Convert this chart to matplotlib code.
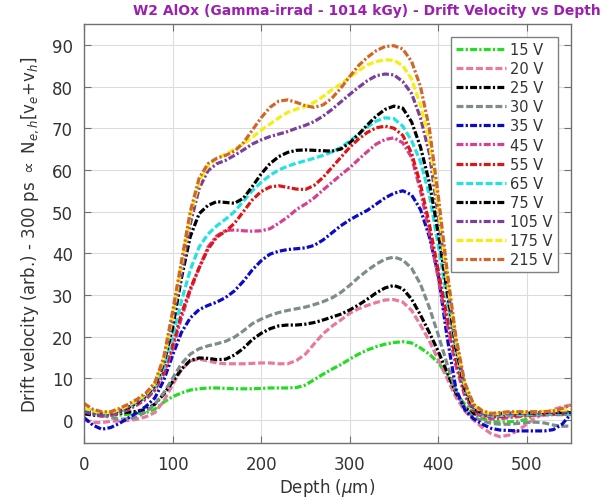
import numpy as np
import matplotlib
matplotlib.use("Agg")
import matplotlib.pyplot as plt

# Depth grid (um)
depth = np.arange(0, 551, 10)

v15 = [2.8, 2.2, 1.6, 1.2, 1.2, 1.4, 1.6, 1.8, 2.6, 4.3, 5.6, 6.5, 7.2, 7.5, 7.7, 7.7,
       7.6, 7.5, 7.5, 7.5, 7.6, 7.7, 7.7, 7.7, 7.8, 8.4, 9.7, 11.0, 12.2, 13.3, 14.6,
       15.8, 16.8, 17.6, 18.2, 18.6, 18.8, 18.5, 17.3, 15.8, 13.8, 10.8, 6.5, 3.8, 1.6,
       0.3, -0.3, -0.5, -0.4, -0.3, 0.2, 1.2, 1.6, 1.5, 1.4, 1.3]
v20 = [0.0, -0.6, -0.6, -0.3, -0.2, -0.1, 0.2, 0.8, 1.8, 4.5, 8.5, 12.0, 14.2, 14.6,
       14.2, 13.7, 13.5, 13.5, 13.5, 13.6, 13.7, 13.7, 13.5, 13.5, 14.3, 15.8, 18.3,
       20.7, 22.5, 24.0, 25.6, 26.7, 27.5, 28.2, 28.8, 28.9, 28.3, 26.3, 22.8, 19.0,
       14.5, 10.0, 5.5, 2.2, 0.0, -1.8, -3.3, -4.0, -3.6, -2.5, -1.0, 0.5, 1.6, 2.5,
       3.2, 3.6]
v25 = [1.5, 1.2, 1.0, 1.2, 1.6, 1.9, 2.1, 2.6, 3.8, 6.2, 9.2, 12.2, 14.3, 14.9, 14.8,
       14.5, 14.6, 15.6, 17.2, 19.3, 20.8, 21.9, 22.6, 22.8, 22.8, 23.0, 23.4, 24.0,
       24.7, 25.4, 26.4, 27.6, 29.0, 30.5, 31.7, 32.3, 31.5, 29.0, 25.2, 21.0, 16.5,
       11.5, 6.5, 3.0, 1.5, 1.3, 1.3, 1.4, 1.5, 1.5, 1.5, 1.5, 1.6, 1.6, 1.7, 1.8]
v30 = [3.0, 2.2, 1.2, 0.6, 0.2, 0.3, 0.8, 2.0, 3.8, 6.5, 10.0, 13.5, 15.8, 17.1, 17.8,
       18.3, 18.9, 19.9, 21.4, 23.1, 24.2, 25.1, 25.8, 26.3, 26.7, 27.1, 27.7, 28.4,
       29.3, 30.6, 32.3, 34.2, 35.9, 37.4, 38.6, 39.1, 38.4, 36.4, 32.6, 27.0, 20.5,
       13.5, 7.0, 2.8, 0.6, -0.2, -0.8, -1.0, -1.0, -0.8, -0.6, -0.5, -0.7, -1.2,
       -1.5, -1.4]
v35 = [0.6, -1.2, -2.2, -1.8, -0.8, 0.5, 1.8, 3.3, 5.3, 9.5, 15.5, 21.0, 24.5, 26.5,
       27.5, 28.3, 29.4, 31.0, 33.3, 36.0, 38.2, 39.8, 40.5, 40.9, 41.1, 41.3, 41.9,
       43.2, 44.9, 46.6, 48.0, 49.2, 50.3, 51.8, 53.3, 54.4, 55.0, 54.0, 50.5, 44.0,
       35.0, 20.0, 7.5, 2.5, 0.3, -1.0, -2.0, -2.4, -2.5, -2.6, -2.6, -2.6, -2.6,
       -2.3, -1.0, 1.5]
v45 = [2.2, 1.5, 1.0, 1.1, 1.7, 2.5, 3.6, 5.0, 7.1, 11.0, 17.0, 24.5, 31.0, 36.5,
       41.5, 44.2, 45.5, 45.6, 45.4, 45.3, 45.4, 45.9, 47.2, 48.7, 50.5, 51.8, 53.3,
       55.2, 57.0, 58.8, 60.5, 62.5, 64.4, 66.2, 67.3, 67.7, 66.5, 63.0, 55.0, 45.0,
       34.0, 23.0, 13.0, 5.8, 2.0, 0.8, 0.3, 0.3, 0.6, 0.8, 1.0, 1.1, 1.2, 1.3, 1.3,
       1.4]
v55 = [2.5, 1.7, 1.3, 1.4, 2.0, 2.8, 3.9, 5.3, 7.4, 11.5, 18.0, 25.5, 31.5, 36.5,
       41.0, 43.9, 45.3, 47.2, 50.0, 52.8, 54.8, 55.9, 56.2, 55.8, 55.4, 55.3, 56.3,
       58.2, 60.6, 63.0, 65.4, 67.4, 69.0, 70.1, 70.5, 70.0, 68.3, 64.0, 56.5, 47.0,
       36.0, 25.0, 14.5, 6.5, 2.5, 1.2, 0.8, 0.8, 1.0, 1.1, 1.2, 1.3, 1.4, 1.4, 1.5,
       1.5]
v65 = [2.5, 1.8, 1.4, 1.5, 2.1, 3.0, 4.1, 5.6, 7.8, 12.5, 20.0, 28.5, 36.0, 41.5,
       44.6, 46.6, 48.2, 50.0, 52.5, 55.0, 57.0, 58.7, 60.0, 60.9, 61.6, 62.2, 62.8,
       63.5, 64.3, 65.4, 66.9, 68.6, 70.3, 71.7, 72.5, 72.3, 70.5, 67.0, 62.0, 54.0,
       42.0, 29.0, 16.5, 7.2, 2.8, 1.4, 1.0, 1.1, 1.2, 1.3, 1.4, 1.4, 1.5, 1.5, 1.5,
       1.5]
v75 = [1.8, 1.6, 1.5, 1.6, 2.2, 3.0, 4.2, 5.8, 8.2, 13.5, 22.0, 34.0, 44.0, 49.5,
       51.5, 52.4, 52.2, 52.0, 53.2, 56.0, 59.0, 61.5, 63.2, 64.2, 64.7, 64.8, 64.7,
       64.6, 64.5, 65.0, 66.5, 68.5, 70.8, 72.9, 74.5, 75.3, 74.8, 71.5, 65.5, 57.0,
       45.0, 31.0, 17.5, 7.5, 2.8, 1.6, 1.5, 1.6, 1.7, 1.7, 1.7, 1.7, 1.8, 1.8, 1.8,
       1.8]
v105 = [2.0, 1.4, 1.2, 1.4, 2.2, 3.2, 4.4, 6.0, 8.5, 14.0, 24.0, 35.0, 47.0, 55.5,
        59.8, 61.5, 62.3, 63.5, 64.8, 66.2, 67.2, 68.0, 68.6, 69.2, 70.0, 70.7, 71.6,
        72.9, 74.5, 76.3, 78.1, 79.8, 81.4, 82.6, 83.0, 82.8, 81.2, 78.3, 72.5, 64.0,
        49.0, 33.0, 18.5, 8.0, 3.0, 1.6, 1.2, 1.3, 1.5, 1.6, 1.7, 1.8, 1.8, 1.9, 1.9,
        2.0]
v175 = [3.0, 2.2, 1.8, 1.8, 2.5, 3.5, 4.7, 6.2, 8.8, 14.5, 25.0, 37.0, 49.0, 57.0,
        61.0, 62.8, 63.8, 65.0, 66.2, 67.8, 69.5, 71.0, 72.5, 73.8, 74.6, 75.2, 76.2,
        77.6, 79.2, 80.6, 82.2, 83.8, 85.2, 86.0, 86.4, 86.3, 85.0, 81.8, 75.5, 67.0,
        51.0, 34.0, 19.0, 8.5, 3.5, 2.0, 1.5, 1.6, 1.8, 1.8, 1.9, 2.0, 2.1, 2.2, 2.4,
        2.5]
v215 = [4.0, 2.6, 2.0, 2.0, 2.8, 3.8, 5.0, 6.5, 9.0, 15.0, 26.0, 38.0, 50.0, 58.0,
        61.5, 62.8, 63.5, 64.5, 66.5, 69.5, 72.5, 75.0, 76.5, 76.8, 76.2, 75.4, 75.0,
        75.6, 77.2, 79.6, 82.4, 85.0, 87.0, 88.6, 89.6, 89.8, 89.0, 86.0, 80.0, 70.0,
        54.0, 36.0, 20.0, 9.0, 3.8, 2.2, 1.6, 1.8, 2.0, 2.0, 2.0, 2.0, 2.0, 2.2, 2.8,
        3.6]

labels = ["15 V", "20 V", "25 V", "30 V", "35 V", "45 V", "55 V", "65 V", "75 V",
          "105 V", "175 V", "215 V"]
series = [v15, v20, v25, v30, v35, v45, v55, v65, v75, v105, v175, v215]
colors = ["#22dd22", "#e8799f", "#000000", "#7f8c8c", "#0a0ac8", "#d6408f",
          "#dd1515", "#22e2e2", "#000000", "#7b3f9e", "#f5ee10", "#d2662a"]

# dash patterns in points (not scaled by line width)
DASH = (5.0, 2.0)
DASHDOT = (5.0, 1.6, 1.6, 1.6)
styles = [DASHDOT, DASH, DASHDOT, DASH, DASHDOT, DASHDOT, DASHDOT, DASH, DASHDOT,
          DASHDOT, DASH, DASHDOT]

plt.rcParams["font.family"] = "DejaVu Sans"
plt.rcParams["mathtext.fontset"] = "dejavusans"
plt.rcParams["lines.scale_dashes"] = False

fig = plt.figure(figsize=(6.16, 5.02), dpi=100)
ax = fig.add_axes([84 / 616, 1 - 444 / 502, (571 - 84) / 616, (444 - 25) / 502])

for y, c, ls, lab in zip(series, colors, styles, labels):
    ax.plot(depth, y, color=c, lw=2.3, dashes=ls, label=lab)

ax.set_xlim(0, 550)
ax.set_ylim(-5.5, 95)
ax.set_xticks(np.arange(0, 501, 100))
ax.set_yticks(np.arange(0, 91, 10))
ax.grid(True, color="#dcdcdc", lw=0.8)
ax.set_axisbelow(True)
for s in ax.spines.values():
    s.set_color("#707070")
    s.set_linewidth(1.0)
ax.tick_params(direction="in", top=True, right=True, length=5, color="#707070",
               labelsize=12, labelcolor="#333333")
ax.tick_params(axis="x", pad=9)
ax.tick_params(axis="y", pad=8)

ax.set_xlabel(r"Depth ($\mu$m)", fontsize=12, color="#333333", labelpad=2)
ax.set_ylabel(r"Drift velocity (arb.) - 300 ps $\propto$ N$_{e,h}$[v$_e$+v$_h$]",
              fontsize=12, color="#333333", labelpad=8)

fig.text(367 / 616, 1 - 11 / 502,
         "W2 AlOx (Gamma-irrad - 1014 kGy) - Drift Velocity vs Depth",
         ha="center", va="center", fontsize=10, fontweight="bold", color="#9c20b0")

leg = ax.legend(loc="upper right", bbox_to_anchor=(1 - 13 / 487, 1 - 13 / 419),
                fontsize=10.5, handlelength=3.4, handletextpad=0.3,
                labelspacing=0.28, borderpad=0.35, borderaxespad=0.0,
                fancybox=False, framealpha=1, edgecolor="#808080")
leg.get_frame().set_linewidth(1.0)
for t in leg.get_texts():
    t.set_color("#333333")

fig.savefig("out.png", dpi=100)
